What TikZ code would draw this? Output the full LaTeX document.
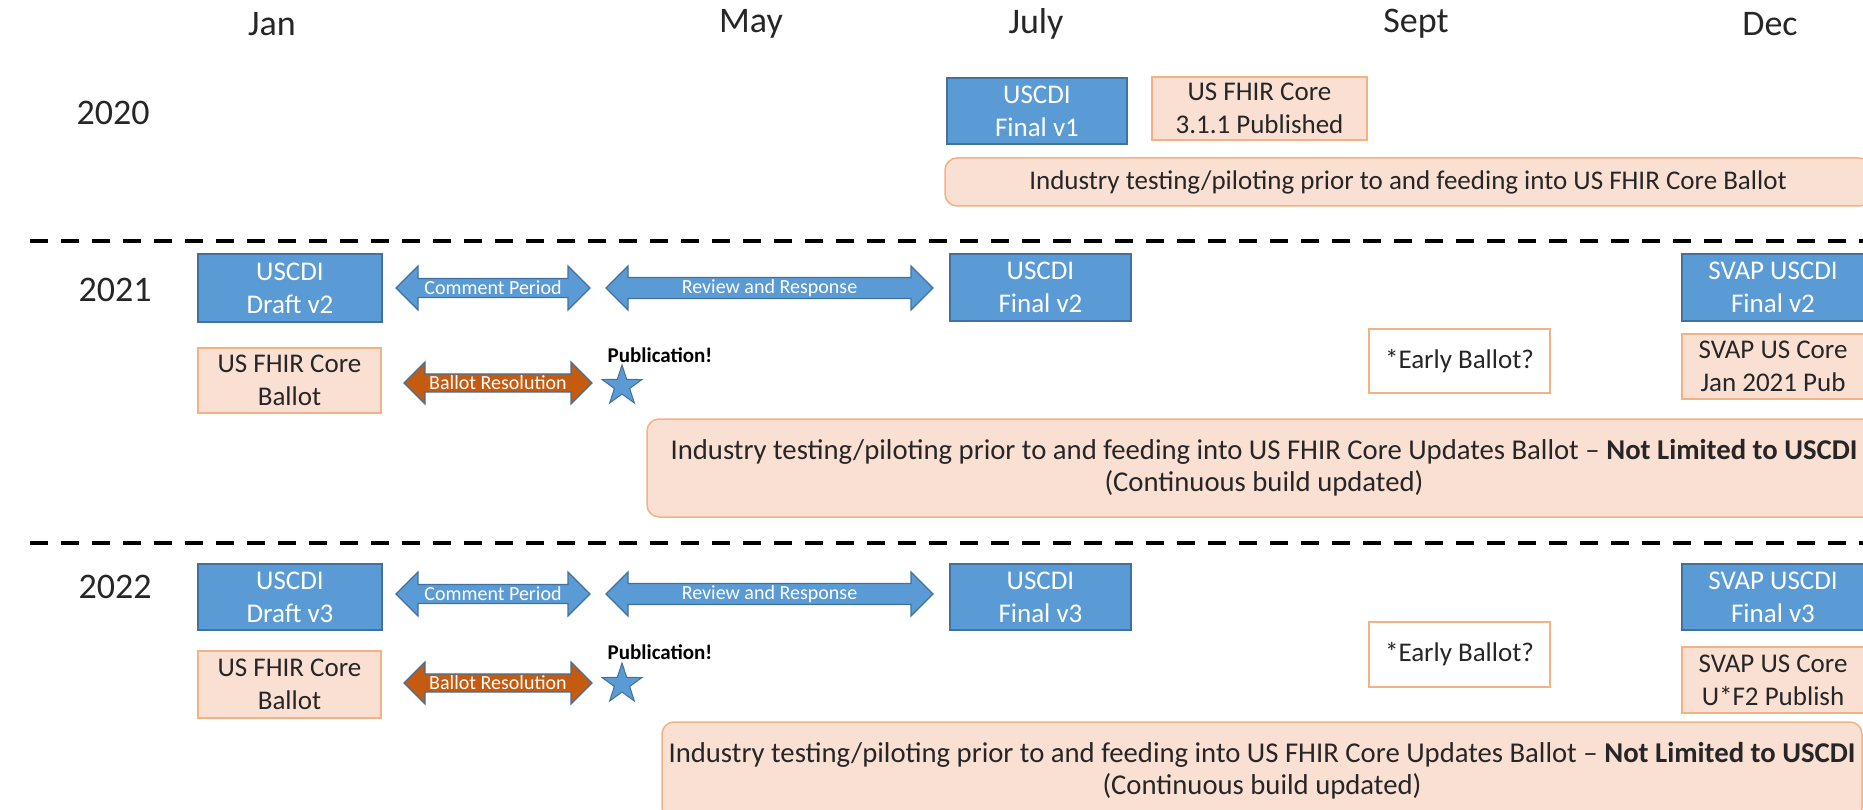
\documentclass[tikz,border=0pt]{standalone}
\usepackage{fontspec}
\setmainfont{Carlito}
\usetikzlibrary{shapes.arrows}
\usetikzlibrary{shapes.geometric}
\definecolor{uscdiblue}{HTML}{5B9BD5}
\definecolor{uscdiedge}{HTML}{41719C}
\definecolor{corefill}{HTML}{FADFD3}
\definecolor{coreedge}{HTML}{F4B183}
\definecolor{resolfill}{HTML}{C55A11}
\tikzset{
    base/.style =   {
                        rectangle, inner sep=0pt, align=center, line width=1.5pt,
                        font=\fontsize{27}{33}\selectfont
                    },
    uscdi_box/.style = {base, draw=uscdiedge, fill=uscdiblue, text=white},
    core_box/.style = {base, draw=coreedge, fill=corefill, text=black!85},
    early_box/.style = {core_box, fill=white},
    industry/.style = {core_box, rounded corners=12pt},
    industry_wide/.style = {industry, font=\fontsize{28.7}{32}\selectfont},
    period/.style = {
                        double arrow, double arrow head extend=10pt, double arrow tip angle=90,
                        draw=uscdiedge, fill=uscdiblue, line width=1.2pt, text=white,
                        inner sep=0pt, font=\fontsize{20}{24}\selectfont
                    },
    resolution/.style = {period, fill=resolfill},
    month/.style = {font=\fontsize{36}{43}\selectfont, text=black!85},
    milestone/.style = {star, star points=5, star point ratio=2.6, draw=uscdiedge,
                        fill=uscdiblue, line width=1pt, minimum size=42pt, inner sep=0pt},
    pub_label/.style = {font=\fontsize{21}{25}\selectfont\bfseries},
    year_sep/.style = {line width=4.5pt, dash pattern=on 18pt off 13pt}
}

\begin{document}
\begin{tikzpicture}[x=1pt, y=-1pt]
    \useasboundingbox (0,0) rectangle (1863,810);
    \clip (0,0) rectangle (1863,810);

    % months
    \node (jan)  [month] at (272,24)  {Jan};
    \node (may)  [month] at (751,24)  {May};
    \node (july) [month] at (1036,24) {July};
    \node (sept) [month] at (1416,24) {Sept};
    \node (dec)  [month] at (1770,24) {Dec};

    % 2020
    \node (y2020)     [month] at (113,113) {2020};
    \node (final_v1)  [uscdi_box, minimum width=180pt, minimum height=66pt] at (1037,111) {USCDI\\Final v1};
    \node (core_311)  [core_box, minimum width=215pt, minimum height=63pt] at (1259.5,108.5) {US FHIR Core\\3.1.1 Published};
    \node (ind_2020)  [industry, minimum width=926pt, minimum height=48pt] at (1408,182) {Industry testing/piloting prior to and feeding into US FHIR Core Ballot};

    \coordinate (sep1_l) at (30,241);
    \coordinate (sep1_r) at (1880,241);
    \draw[year_sep] (sep1_l) -- (sep1_r);

    % 2021
    \node (y2021)      [month] at (115,290) {2021};
    \node (draft_v2)   [uscdi_box, minimum width=184pt, minimum height=68pt] at (290,288) {USCDI\\Draft v2};
    \node (comment_v2) [period, minimum height=194pt, minimum width=44pt] at (493,288) {Comment Period};
    \node (review_v2)  [period, minimum height=327pt, minimum width=44pt] at (769.5,288) {Review and Response};
    \node (final_v2)   [uscdi_box, minimum width=181pt, minimum height=67pt] at (1040.5,287.5) {USCDI\\Final v2};
    \node (svap_v2)    [uscdi_box, minimum width=182pt, minimum height=67pt] at (1773,287.5) {SVAP USCDI\\Final v2};
    \node (ballot_v2)  [core_box, minimum width=183pt, minimum height=65pt] at (289.5,380.5) {US FHIR Core\\Ballot};
    \node (resol_v2)   [resolution, minimum height=188pt, minimum width=42pt] at (498,383) {Ballot Resolution};
    \node (star_v2)    [milestone] at (622,386) {};
    \node (pub_v2)     [pub_label] at (660,355) {Publication!};
    \node (early_v2)   [early_box, minimum width=181pt, minimum height=64pt] at (1459.5,361) {*Early Ballot?};
    \node (svapcore_v2)[core_box, minimum width=182pt, minimum height=65pt] at (1773,366.5) {SVAP US Core\\Jan 2021 Pub};
    \node (ind_2021)   [industry_wide, minimum width=1234pt, minimum height=98pt] at (1264,468) {Industry testing/piloting prior to and feeding into US FHIR Core Updates Ballot -- \textbf{Not Limited to USCDI}\\(Continuous build updated)};

    \coordinate (sep2_l) at (30,543);
    \coordinate (sep2_r) at (1880,543);
    \draw[year_sep] (sep2_l) -- (sep2_r);

    % 2022
    \node (y2022)      [month] at (115,587) {2022};
    \node (draft_v3)   [uscdi_box, minimum width=184pt, minimum height=66pt] at (290,597) {USCDI\\Draft v3};
    \node (comment_v3) [period, minimum height=194pt, minimum width=44pt] at (493,594) {Comment Period};
    \node (review_v3)  [period, minimum height=327pt, minimum width=44pt] at (769.5,594) {Review and Response};
    \node (final_v3)   [uscdi_box, minimum width=181pt, minimum height=66pt] at (1040.5,597) {USCDI\\Final v3};
    \node (svap_v3)    [uscdi_box, minimum width=182pt, minimum height=66pt] at (1773,597) {SVAP USCDI\\Final v3};
    \node (ballot_v3)  [core_box, minimum width=183pt, minimum height=67pt] at (289.5,684.5) {US FHIR Core\\Ballot};
    \node (resol_v3)   [resolution, minimum height=188pt, minimum width=42pt] at (498,683) {Ballot Resolution};
    \node (star_v3)    [milestone] at (622,684) {};
    \node (pub_v3)     [pub_label] at (660,652) {Publication!};
    \node (early_v3)   [early_box, minimum width=181pt, minimum height=65pt] at (1459.5,654.5) {*Early Ballot?};
    \node (svapcore_v3)[core_box, minimum width=182pt, minimum height=66pt] at (1773,680) {SVAP US Core\\U*F2 Publish};
    \node (ind_2022)   [industry_wide, minimum width=1200pt, minimum height=98pt] at (1262,771) {Industry testing/piloting prior to and feeding into US FHIR Core Updates Ballot -- \textbf{Not Limited to USCDI}\\(Continuous build updated)};
\end{tikzpicture}
\end{document}
